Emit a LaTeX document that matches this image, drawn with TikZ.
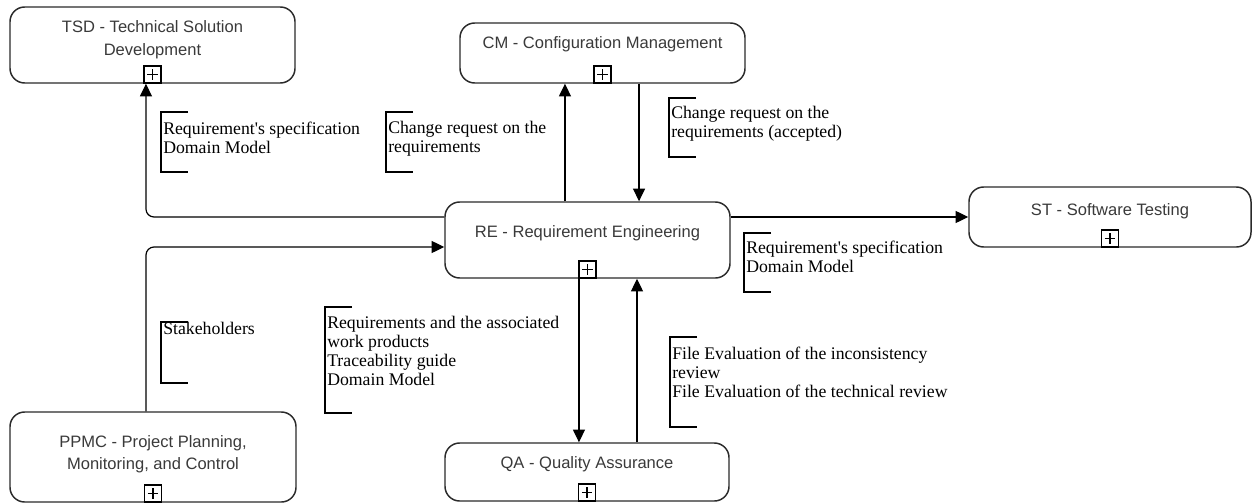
\documentclass[tikz,border=0pt]{standalone}
\usepackage{fontspec}
\setmainfont{Liberation Serif}[Ligatures=TeXOff]
\setsansfont{Liberation Sans}
\usetikzlibrary{arrows.meta}
\definecolor{boxtext}{HTML}{3A3A3A}
\definecolor{boxline}{HTML}{2A2A2A}
\begin{document}
\begin{tikzpicture}[x=0.75pt,y=-0.75pt,
  box/.style={draw=boxline, line width=1.1pt, rounded corners=11pt, inner sep=0pt, fill=white},
  boxtxt/.style={font=\sffamily\fontsize{12.4}{16.9}\selectfont, text=boxtext, align=center, inner sep=0pt},
  plusbox/.style={draw=black, line width=1pt, fill=white, minimum size=12.75pt, inner sep=0pt, anchor=south,
    path picture={\draw[line width=0.9pt]
      ([xshift=-3.9pt]path picture bounding box.center) -- ([xshift=3.9pt]path picture bounding box.center)
      ([yshift=-3.9pt]path picture bounding box.center) -- ([yshift=3.9pt]path picture bounding box.center);}},
  conn/.style={draw=black, line width=0.9pt, -{Triangle[length=9.5pt,width=9pt]}, rounded corners=6pt},
  note/.style={font=\fontsize{13.3}{14.2}\selectfont, align=left, anchor=north west, inner sep=0pt},
  brk/.style={draw=black, line width=0.9pt}]
\useasboundingbox (0,0) rectangle (1252,503);

% boxes
\node[box, minimum width=213.75pt, minimum height=57pt] (tsd) at (152.5,45) {};
\node[box, minimum width=213.75pt, minimum height=45pt] (cm) at (602.5,53) {};
\node[box, minimum width=213.75pt, minimum height=57pt] (re) at (587.5,240) {};
\node[box, minimum width=211.5pt, minimum height=45pt] (st) at (1110,217) {};
\node[box, minimum width=214.5pt, minimum height=67.5pt] (ppmc) at (153,457) {};
\node[box, minimum width=213pt, minimum height=43.5pt] (qa) at (587,472) {};

% box texts
\node[boxtxt, anchor=north] (tsd-t) at (152.5,20.5) {TSD - Technical Solution\\Development};
\node[boxtxt, anchor=base] (cm-t) at (602.5,49) {CM - Configuration Management};
\node[boxtxt, anchor=base] (re-t) at (587.5,237) {RE - Requirement Engineering};
\node[boxtxt, anchor=base] (st-t) at (1110,215) {ST - Software Testing};
\node[boxtxt, anchor=north] (ppmc-t) at (153,435) {PPMC - Project Planning,\\Monitoring, and Control};
\node[boxtxt, anchor=base] (qa-t) at (587,468) {QA - Quality Assurance};

% plus icons
\node[plusbox] (tsd-p) at (tsd.south) {};
\node[plusbox] (cm-p) at (cm.south) {};
\node[plusbox] (re-p) at (re.south) {};
\node[plusbox] (st-p) at (st.south) {};
\node[plusbox] (ppmc-p) at (ppmc.south) {};
\node[plusbox] (qa-p) at (qa.south) {};

% connectors
\draw[conn] ([yshift=17.25pt]re.west) -| ([xshift=-4.9pt]tsd.south);
\draw[conn] ([xshift=-5.25pt]ppmc.north) |- ([yshift=-5.25pt]re.west);
\draw[conn] ([xshift=-16.9pt]re.north) coordinate (recm) -- (recm |- cm.south);
\draw[conn] ([xshift=27.4pt]cm.south) coordinate (cmre) -- (cmre |- re.north);
\draw[conn] (re.east |- st.west) -- (st.west);
\draw[conn] ([xshift=-6.4pt]re.south) coordinate (reqa) -- (reqa |- qa.north);
\draw[conn] ([xshift=37.5pt]qa.north) coordinate (qare) -- (qare |- re.south);

% annotations
\draw[brk] (188,112) -- (161,112) -- (161,172) -- (188,172);
\node[note] (n1) at (163,121.4) {Requirement's specification\\Domain Model};
\draw[brk] (413,112) -- (386,112) -- (386,172) -- (413,172);
\node[note] (n2) at (388,121.4) {Change request on the\\requirements};
\draw[brk] (696,98) -- (669,98) -- (669,157) -- (696,157);
\node[note] (n3) at (671,106.2) {Change request on the\\requirements (accepted)};
\draw[brk] (771,233) -- (744,233) -- (744,292) -- (771,292);
\node[note] (n4) at (746,241) {Requirement's specification\\Domain Model};
\draw[brk] (188,322) -- (161,322) -- (161,383) -- (188,383);
\node[note] (n5) at (163,322) {Stakeholders};
\draw[brk] (352,307) -- (325,307) -- (325,413) -- (352,413);
\node[note] (n6) at (327,316.2) {Requirements and the associated\\work products\\Traceability guide\\Domain Model};
\draw[brk] (697,337) -- (670,337) -- (670,427) -- (697,427);
\node[note] (n7) at (672,347.2) {File Evaluation of the inconsistency\\review\\File Evaluation of the technical review};
\end{tikzpicture}
\end{document}
